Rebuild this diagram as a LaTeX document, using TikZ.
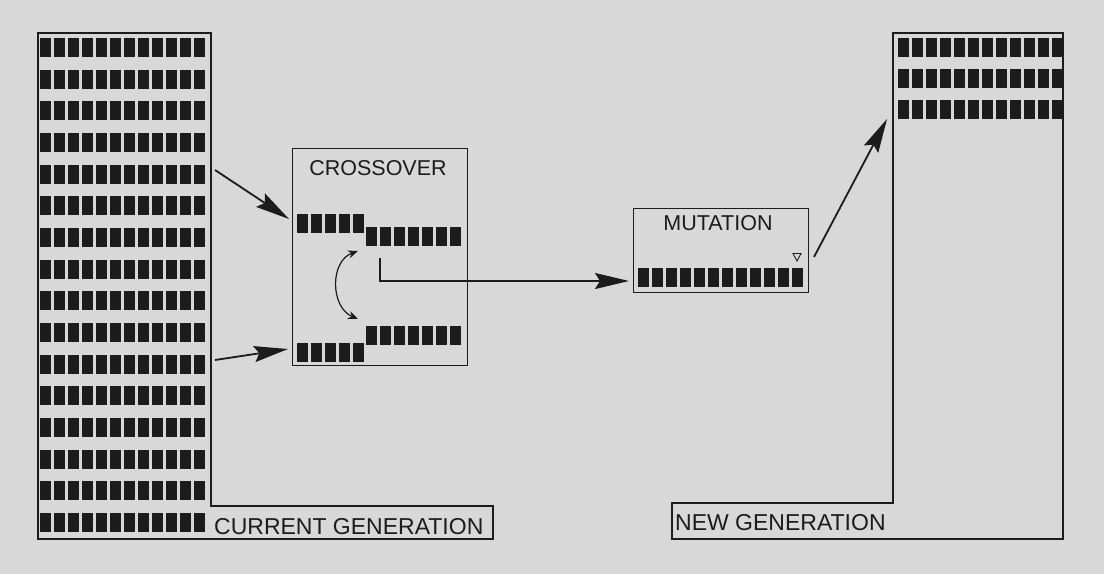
\documentclass[tikz,border=0pt]{standalone}
\usepackage{fontspec}
\setmainfont{Liberation Sans}
\usetikzlibrary{arrows.meta}

\definecolor{paper}{RGB}{216,216,216}
\definecolor{ink}{RGB}{28,28,28}

\tikzset{
  gene/.style={fill=ink, draw=none},
  frame/.style={draw=ink, line width=1.4pt},
  flow/.style={draw=ink, line width=1.8pt, -{Stealth[length=34pt,width=16pt,inset=5pt]}},
  swap/.style={draw=ink, line width=1.2pt, {Stealth[length=10pt,width=8pt]}-{Stealth[length=10pt,width=8pt]}},
  title/.style={inner sep=0pt, text=ink, font=\fontsize{23}{23}\selectfont},
  boxtitle/.style={inner sep=0pt, text=ink, font=\fontsize{21.5}{22}\selectfont},
}

% a chromosome: #3 genes, top-left corner at (#1,#2)
\newcommand\genes[3]{%
  \foreach \k in {1,...,#3}{\fill[gene] ({#1+(\k-1)*14},{#2}) rectangle ++(11,19);}%
}

\begin{document}
\begin{tikzpicture}[x=1pt,y=-1pt]
  \fill[paper] (0,0) rectangle (1104,574);
  \useasboundingbox (0,0) rectangle (1104,574);

  % current generation
  \draw[frame] (38,33) -- (211,33) -- (211,506) -- (493,506) -- (493,539) -- (38,539) -- cycle;
  \foreach \r in {0,...,15}{\genes{40}{38+\r*31.67}{12}}
  \node[title, anchor=base west] (curlbl) at (214,534) {CURRENT GENERATION};

  % crossover
  \node[frame, minimum width=175pt, minimum height=217pt, anchor=north west] (cross) at (292,148) {};
  \node[boxtitle, anchor=base] (crosslbl) at (378,175) {CROSSOVER};
  \genes{297}{214}{5}
  \genes{366}{227}{7}
  \genes{366}{326}{7}
  \genes{297}{343}{5}
  \coordinate (swapA) at (358,251);
  \coordinate (swapB) at (358,319);
  \draw[swap] (swapA) .. controls (330,261) and (330,307) .. (swapB);

  % mutation
  \node[frame, minimum width=175pt, minimum height=84pt, anchor=north west] (mut) at (633,208) {};
  \node[boxtitle, anchor=base] (mutlbl) at (718,230) {MUTATION};
  \genes{638}{268}{12}
  \draw[ink, line width=0.9pt] (793,253.5) -- (801,253.5) -- (797,261) -- cycle;

  % new generation
  \draw[frame] (893,33) -- (1063,33) -- (1063,539) -- (672,539) -- (672,503) -- (893,503) -- cycle;
  \foreach \r in {0,1,2}{\genes{898}{38+\r*31}{12}}
  \node[title, anchor=base west] (newlbl) at (675,530) {NEW GENERATION};

  % connectors
  \coordinate (parentA) at (215,170);
  \coordinate (parentB) at (215,360);
  \coordinate (intoA) at (289,219);
  \coordinate (intoB) at (288,349);
  \coordinate (child) at (380,258);
  \coordinate (bend) at (380,281);
  \coordinate (mutIn) at (629,281);
  \coordinate (mutOut) at (814,257);
  \coordinate (newIn) at (887,119);

  \draw[flow] (parentA) -- (intoA);
  \draw[flow] (parentB) -- (intoB);
  \draw[flow] (child) -- (bend) -- (mutIn);
  \draw[flow] (mutOut) -- (newIn);
\end{tikzpicture}
\end{document}
